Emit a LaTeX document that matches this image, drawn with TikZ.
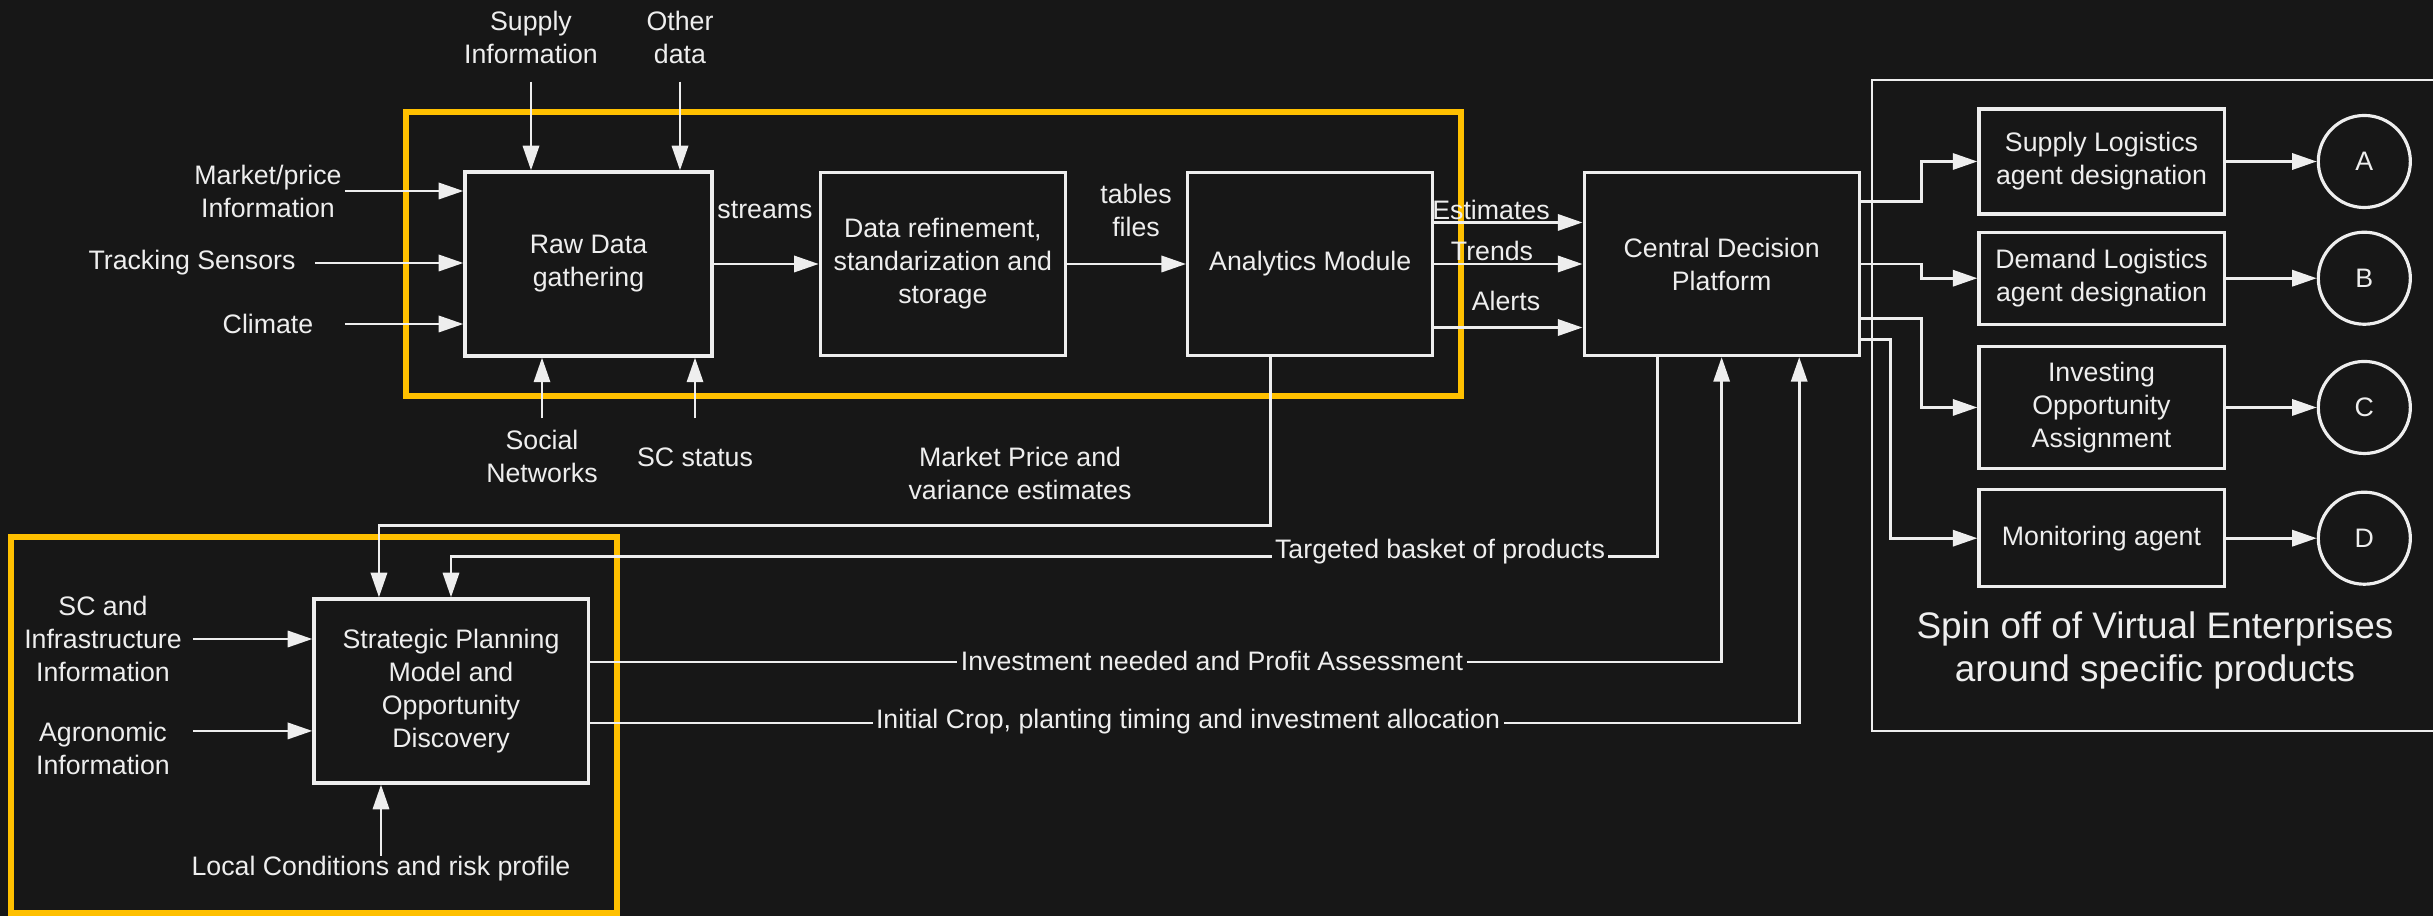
\documentclass[tikz,border=0pt]{standalone}
\usepackage{fontspec}
\setmainfont{Liberation Sans}
\usetikzlibrary{arrows.meta, positioning, calc}
\definecolor{cBack}{RGB}{23, 23, 23}
\definecolor{bFrame}{RGB}{255, 192, 0}
\definecolor{tLight}{RGB}{238, 238, 238}

\begin{document}
\begin{tikzpicture}[
    x=0.01cm, y=-0.01cm,
    font=\fontsize{7.6pt}{9.4pt}\selectfont,
    text=tLight,
    >={Triangle[length=7pt, width=4.6pt]},
    block/.style={
        draw=tLight,
        line width=0.9pt,
        fill=cBack,
        align=center,
        inner sep=2pt,
        minimum width=#1
    },
    entity/.style={circle, draw=tLight, line width=0.9pt, minimum size=0.92cm, inner sep=0pt},
    lbl/.style={align=center, inner sep=0pt},
    onlabel/.style={fill=cBack, inner sep=1pt},
    arrow/.style={->, line width=0.8pt, color=tLight},
    link/.style={line width=0.8pt, color=tLight},
    frame/.style={draw=bFrame, line width=1.5pt}
]

\useasboundingbox[fill=cBack] (0,0) rectangle (2433,916);

% Containers
\draw[frame] (406,112) rectangle (1461,396);
\draw[frame] (11,537) rectangle (617,913);
\draw[link] (2433,80) -| (1872,731) -- (2433,731);

\node[block=2.47cm, minimum height=1.84cm] (raw) at (588.5,264) {Raw Data\\gathering};
\node[block=2.45cm, minimum height=1.83cm, right=1.05cm of raw] (refine) {Data refinement,\\standarization and\\storage};
\node[block=2.45cm, minimum height=1.83cm, right=1.19cm of refine] (ana) {Analytics Module};
\node[block=2.75cm, minimum height=1.83cm, right=1.48cm of ana] (cdp) {Central Decision\\Platform};

\node[block=2.74cm, minimum height=1.84cm] (strat) at (451,691) {Strategic Planning\\Model and\\Opportunity\\Discovery};

% Virtual enterprise agents
\node[block=2.45cm, minimum height=1.05cm] (supag) at (2101.5,161.5) {Supply Logistics\\agent designation};
\node[block=2.45cm, minimum height=0.92cm, below=0.15cm of supag] (demag) {Demand Logistics\\agent designation};
\node[block=2.45cm, minimum height=1.22cm, below=0.19cm of demag] (invag) {Investing\\Opportunity\\Assignment};
\node[block=2.45cm, minimum height=0.97cm, below=0.18cm of invag] (monag) {Monitoring agent};

\node[entity, right=0.91cm of supag] (entA) {A};
\node[entity, right=0.91cm of demag] (entB) {B};
\node[entity, right=0.91cm of invag] (entC) {C};
\node[entity, right=0.91cm of monag] (entD) {D};

% Inputs
\node[lbl, minimum height=0.87cm] (supin) at (531,37.5) {Supply\\Information};
\node[lbl, minimum height=0.87cm] (othin) at (680,37.5) {Other\\data};
\node[lbl, minimum width=1.52cm] (mktin) at (268,191) {Market/price\\Information};
\node[lbl, minimum width=2.44cm] (trkin) at (192,263) {Tracking Sensors};
\node[lbl, minimum width=1.52cm] (climin) at (268,324) {Climate};
\node[lbl, minimum height=0.75cm] (socin) at (542,456.5) {Social\\Networks};
\node[lbl, minimum height=0.76cm] (scin) at (695,457) {SC status};

\node[lbl, minimum width=1.78cm] (scinfra) at (103,639) {SC and\\Infrastructure\\Information};
\node[lbl, minimum width=1.78cm] (agro) at (103,748.5) {Agronomic\\Information};
\node[lbl] (local) at (381,869) {Local Conditions and risk profile};

\node[lbl] (streams) at (765,210) {streams};
\node[lbl] (tabfiles) at (1136,210) {tables\\files};
\node[lbl] (est) at (1491,210) {Estimates};
\node[lbl] (trends) at (1492,251) {Trends};
\node[lbl] (alerts) at (1506,301) {Alerts};
\node[lbl] (mpv) at (1020,473) {Market Price and\\variance estimates};
\node[lbl, font=\fontsize{10.5pt}{12.2pt}\selectfont] (spin) at (2155,650.5) {Spin off of Virtual Enterprises\\around specific products};

\draw[arrow] (supin) -- (supin |- raw.north);
\draw[arrow] (othin) -- (othin |- raw.north);
\draw[arrow] (mktin) -- (mktin -| raw.west);
\draw[arrow] (trkin) -- (trkin -| raw.west);
\draw[arrow] (climin) -- (climin -| raw.west);
\draw[arrow] (socin) -- (socin |- raw.south);
\draw[arrow] (scin) -- (scin |- raw.south);

\draw[arrow] (raw) -- (refine);
\draw[arrow] (refine) -- (ana);
\draw[arrow] ([yshift=0.415cm]ana.east) coordinate (estout) -- (estout -| cdp.west);
\draw[arrow] (ana) -- (cdp);
\draw[arrow] ([yshift=-0.635cm]ana.east) coordinate (alout) -- (alout -| cdp.west);

\draw[arrow] ([yshift=0.625cm]cdp.east) -- ++(61,0) |- (supag);
\draw[arrow] (cdp.east) -- ++(61,0) |- (demag);
\draw[arrow] ([yshift=-0.545cm]cdp.east) -- ++(61,0) |- (invag);
\draw[arrow] ([yshift=-0.755cm]cdp.east) -- ++(30,0) |- (monag);

\draw[arrow] (supag) -- (entA);
\draw[arrow] (demag) -- (entB);
\draw[arrow] (invag) -- (entC);
\draw[arrow] (monag) -- (entD);

\draw[arrow] (scinfra) -- (scinfra -| strat.west);
\draw[arrow] ([yshift=5pt]agro.east) coordinate (agout) -- (agout -| strat.west);
\draw[arrow] (local) -- (local |- strat.south);

% Feedback loops
\draw[arrow] ([xshift=-0.395cm]ana.south) -- ++(0,168) -| ([xshift=-0.72cm]strat.north);
\draw[arrow] ([xshift=-0.645cm]cdp.south) -- ++(0,199) -| (strat.north);
\draw[arrow] ([yshift=0.29cm]strat.east) -| (cdp.south);
\draw[arrow] ([yshift=-0.32cm]strat.east) -| ([xshift=0.775cm]cdp.south);

\node[onlabel] (basket) at (1440,552) {Targeted basket of products};
\node[onlabel] (invest) at (1212,661) {Investment needed and Profit Assessment};
\node[onlabel] (crop) at (1188,722) {Initial Crop, planting timing and investment allocation};

\end{tikzpicture}
\end{document}
